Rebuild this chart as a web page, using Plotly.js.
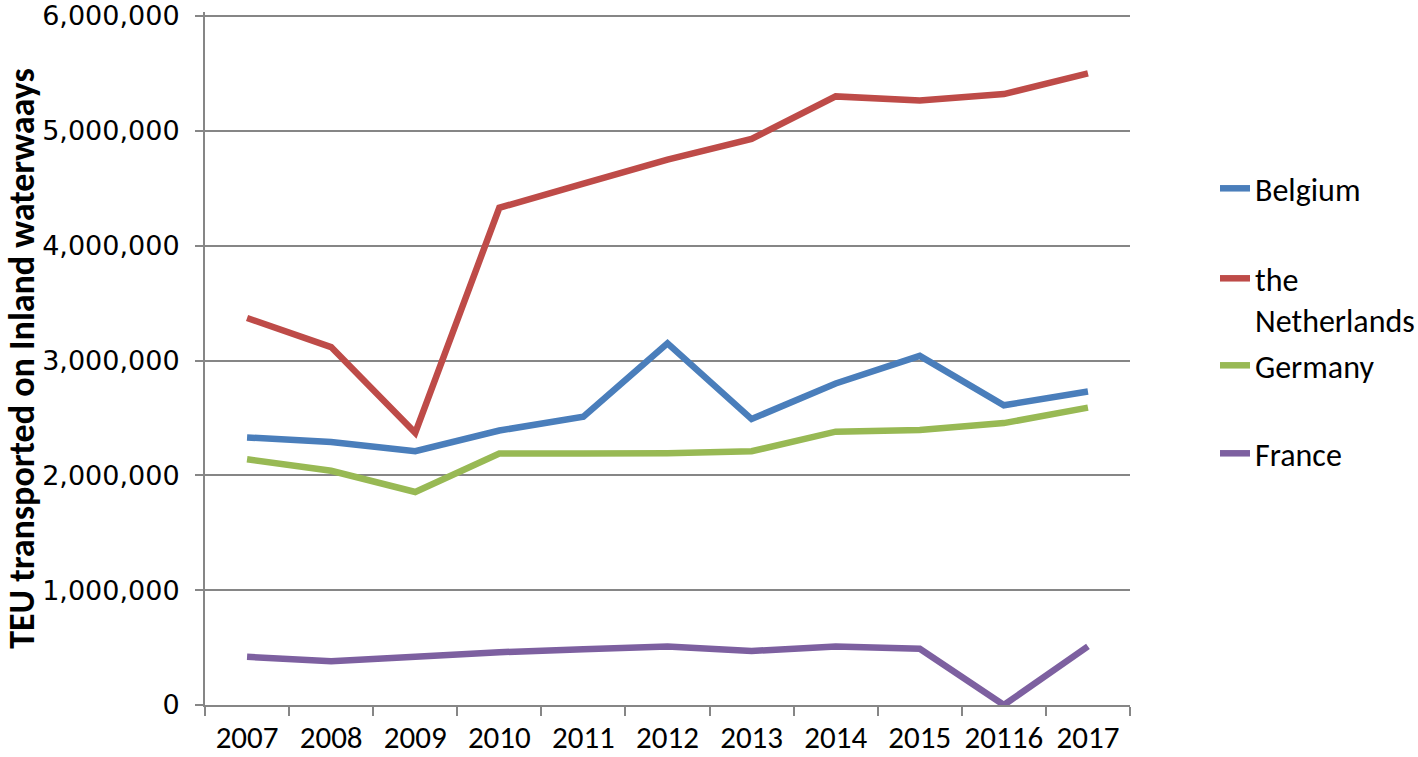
<!DOCTYPE html>
<html>
<head>
<meta charset="utf-8">
<script src="https://cdn.plot.ly/plotly-3.0.1.min.js"></script>
<style>html,body{margin:0;padding:0;background:#fff;}#chart{width:1418px;height:757px;}</style>
</head>
<body>
<div id="chart"></div>
<script>
const years = ['2007','2008','2009','2010','2011','2012','2013','2014','2015','20116','2017'];
const belgium = [2330000, 2290000, 2210000, 2390000, 2510000, 3150000, 2490000, 2800000, 3040000, 2610000, 2730000];
const netherlands = [3370000, 3117000, 2370000, 4330000, 4540000, 4750000, 4930000, 5300000, 5265000, 5320000, 5500000];
const germany = [2140000, 2040000, 1855000, 2190000, 2190000, 2192000, 2210000, 2380000, 2395000, 2455000, 2590000];
const france = [420000, 380000, 420000, 460000, 485000, 510000, 470000, 510000, 490000, 0, 510000];
const seriesNames = ['Belgium', 'the<br>Netherlands', 'Germany', 'France'];
const yTickVals = [0, 1000000, 2000000, 3000000, 4000000, 5000000, 6000000];
const yTickText = ['0', '1,000,000', '2,000,000', '3,000,000', '4,000,000', '5,000,000', '6,000,000'];
const yTitle = 'TEU transported on Inland waterwaays';

const colors = ['#4a7ebb', '#be4b48', '#98b954', '#7d60a0'];
const data = [belgium, netherlands, germany, france].map((vals, i) => ({
  type: 'scatter', mode: 'lines', x: years, y: vals, name: seriesNames[i],
  line: {color: colors[i], width: 6.5},
  legend: i === 0 ? 'legend' : 'legend' + (i + 1),
  hoverinfo: 'x+y+name'
}));

const legendBase = {xref: 'container', yref: 'container', x: 1215 / 1418, xanchor: 'left', yanchor: 'top',
  bgcolor: 'rgba(0,0,0,0)',
  font: {family: 'Carlito, "Liberation Sans", Arial, sans-serif', size: 32, color: '#000'}, valign: 'top'};
function cy(pix) { return (757 - pix) / 757; }
const layout = {
  width: 1418, height: 757,
  margin: {l: 205, r: 288, t: 12, b: 52, autoexpand: false},
  paper_bgcolor: '#fff', plot_bgcolor: '#fff',
  showlegend: true,
  legend: Object.assign({}, legendBase, {y: cy(161)}),
  legend2: Object.assign({}, legendBase, {y: cy(251)}),
  legend3: Object.assign({}, legendBase, {y: cy(338)}),
  legend4: Object.assign({}, legendBase, {y: cy(426)}),
  xaxis: {
    type: 'category', range: [-0.5, 10.5], tickson: 'boundaries',
    ticks: 'outside', ticklen: 9, tickwidth: 2, tickcolor: '#868686',
    showline: true, linecolor: '#868686', linewidth: 2, showgrid: false,
    tickangle: 0, ticklabeloverflow: 'allow',
    tickfont: {family: 'Carlito, "DejaVu Sans Condensed", sans-serif', size: 31, color: '#000'},
    ticklabelstandoff: 4,
    automargin: false, fixedrange: true
  },
  yaxis: {
    range: [0, 6034800], tickvals: yTickVals, ticktext: yTickText,
    ticks: 'outside', ticklen: 8, tickwidth: 2, tickcolor: '#868686',
    showline: true, linecolor: '#868686', linewidth: 2,
    showgrid: true, gridcolor: '#868686', gridwidth: 2, zeroline: false,
    ticklabeloverflow: 'allow',
    tickfont: {family: '"DejaVu Sans", sans-serif', size: 27, color: '#000'},
    ticklabelstandoff: 10,
    title: {text: yTitle, font: {family: 'Carlito, "DejaVu Sans Condensed", sans-serif', size: 36, color: '#000', weight: 'bold'}, standoff: 16},
    automargin: true, fixedrange: true
  }
};
Plotly.newPlot('chart', data, layout, {displayModeBar: false, staticPlot: true});
</script>
</body>
</html>
